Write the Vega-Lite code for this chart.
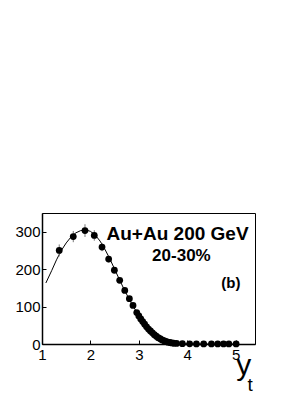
{
  "$schema": "https://vega.github.io/schema/vega-lite/v6.json",
  "width": 213,
  "height": 131,
  "autosize": {"type": "none"},
  "padding": {"left": 42, "top": 213, "right": 50, "bottom": 50},
  "background": "white",
  "config": {
    "font": "Liberation Sans",
    "view": {"stroke": "black", "strokeWidth": 1},
    "axis": {
      "grid": false,
      "domainColor": "black",
      "domainWidth": 1.5,
      "tickColor": "black",
      "tickSize": -4,
      "labelFont": "Liberation Sans",
      "labelFontSize": 15,
      "labelColor": "black"
    }
  },
  "datasets": {
    "pts": [
      {"yt": 1.356, "v": 250, "e": 16},
      {"yt": 1.646, "v": 287, "e": 15},
      {"yt": 1.888, "v": 303, "e": 17},
      {"yt": 2.08, "v": 290, "e": 14},
      {"yt": 2.24, "v": 259, "e": 11},
      {"yt": 2.377, "v": 227, "e": 9},
      {"yt": 2.495, "v": 197, "e": 7},
      {"yt": 2.605, "v": 170, "e": 6},
      {"yt": 2.71, "v": 143, "e": 5},
      {"yt": 2.805, "v": 121, "e": 4},
      {"yt": 2.88, "v": 103, "e": 4},
      {"yt": 2.957, "v": 84, "e": 3},
      {"yt": 3.0, "v": 75, "e": 3},
      {"yt": 3.04, "v": 67, "e": 2},
      {"yt": 3.08, "v": 60, "e": 2},
      {"yt": 3.12, "v": 53, "e": 2},
      {"yt": 3.16, "v": 46, "e": 2},
      {"yt": 3.2, "v": 40, "e": 2},
      {"yt": 3.24, "v": 35, "e": 1},
      {"yt": 3.28, "v": 30, "e": 1},
      {"yt": 3.32, "v": 25, "e": 1},
      {"yt": 3.36, "v": 21, "e": 1},
      {"yt": 3.4, "v": 17, "e": 1},
      {"yt": 3.44, "v": 14, "e": 1},
      {"yt": 3.48, "v": 11, "e": 1},
      {"yt": 3.52, "v": 9, "e": 1},
      {"yt": 3.56, "v": 7, "e": 1},
      {"yt": 3.6, "v": 5, "e": 1},
      {"yt": 3.64, "v": 4, "e": 1},
      {"yt": 3.68, "v": 3, "e": 1},
      {"yt": 3.72, "v": 2, "e": 1},
      {"yt": 3.78, "v": 1.5, "e": 1},
      {"yt": 3.9, "v": 1, "e": 1},
      {"yt": 4.05, "v": 0.5, "e": 1},
      {"yt": 4.19, "v": 0.3, "e": 1},
      {"yt": 4.34, "v": 0.3, "e": 1},
      {"yt": 4.5, "v": 0.3, "e": 1},
      {"yt": 4.63, "v": 0.3, "e": 1},
      {"yt": 4.75, "v": 0.3, "e": 1},
      {"yt": 4.86, "v": 0.3, "e": 1},
      {"yt": 5.01, "v": 0.3, "e": 1}
    ],
    "fit": [
      {"yt": 1.08, "v": 163}, {"yt": 1.2, "v": 196}, {"yt": 1.3, "v": 225},
      {"yt": 1.4, "v": 250}, {"yt": 1.5, "v": 270}, {"yt": 1.6, "v": 286},
      {"yt": 1.7, "v": 297}, {"yt": 1.8, "v": 303}, {"yt": 1.9, "v": 305},
      {"yt": 2.0, "v": 301}, {"yt": 2.1, "v": 291}, {"yt": 2.2, "v": 275},
      {"yt": 2.3, "v": 253}, {"yt": 2.4, "v": 228}, {"yt": 2.5, "v": 200},
      {"yt": 2.6, "v": 172}, {"yt": 2.7, "v": 145}, {"yt": 2.8, "v": 120},
      {"yt": 2.9, "v": 97}, {"yt": 3.0, "v": 77}, {"yt": 3.1, "v": 59},
      {"yt": 3.2, "v": 44}, {"yt": 3.3, "v": 31}, {"yt": 3.4, "v": 21},
      {"yt": 3.5, "v": 14}, {"yt": 3.6, "v": 8}, {"yt": 3.7, "v": 5},
      {"yt": 3.8, "v": 2.5}, {"yt": 3.9, "v": 1.2}, {"yt": 4.0, "v": 0.5},
      {"yt": 4.5, "v": 0}, {"yt": 5.0, "v": 0}
    ]
  },
  "layer": [
    {
      "data": {"name": "fit"},
      "mark": {"type": "line", "color": "black", "strokeWidth": 1},
      "encoding": {
        "x": {"field": "yt", "type": "quantitative", "title": null, "scale": {"domain": [1, 5.4], "nice": false, "zero": false},
              "axis": {"title": null, "values": [1, 2, 3, 4, 5], "labelPadding": 7, "labelFlush": false}},
        "y": {"field": "v", "type": "quantitative", "title": null, "scale": {"domain": [0, 350], "nice": false},
              "axis": {"title": null, "values": [0, 100, 200, 300], "labelPadding": 6, "labelFlush": false}}
      }
    },
    {
      "data": {"name": "pts"},
      "mark": {"type": "errorbar", "color": "#777777", "thickness": 1},
      "encoding": {
        "x": {"field": "yt", "type": "quantitative", "title": null},
        "y": {"field": "v", "type": "quantitative", "title": null},
        "yError": {"field": "e"}
      }
    },
    {
      "data": {"name": "pts"},
      "mark": {"type": "circle", "color": "black", "opacity": 1, "size": 46},
      "encoding": {
        "x": {"field": "yt", "type": "quantitative", "title": null},
        "y": {"field": "v", "type": "quantitative", "title": null}
      }
    },
    {
      "data": {"values": [{"label": "Au+Au 200 GeV"}]},
      "mark": {"type": "text", "fontWeight": "bold", "fontSize": 19, "align": "center", "baseline": "middle"},
      "encoding": {"x": {"datum": 3.8}, "y": {"datum": 293}, "text": {"field": "label"}}
    },
    {
      "data": {"values": [{"label": "20-30%"}]},
      "mark": {"type": "text", "fontWeight": "bold", "fontSize": 17, "align": "center", "baseline": "middle"},
      "encoding": {"x": {"datum": 3.88}, "y": {"datum": 235}, "text": {"field": "label"}}
    },
    {
      "data": {"values": [{"label": "(b)"}]},
      "mark": {"type": "text", "fontWeight": "bold", "fontSize": 15, "align": "center", "baseline": "middle"},
      "encoding": {"x": {"datum": 4.9}, "y": {"datum": 164}, "text": {"field": "label"}}
    },
    {
      "data": {"values": [{"label": "y"}]},
      "mark": {"type": "text", "fontSize": 30, "align": "center", "baseline": "alphabetic"},
      "encoding": {"x": {"datum": 5.17}, "y": {"datum": -82}, "text": {"field": "label"}}
    },
    {
      "data": {"values": [{"label": "t"}]},
      "mark": {"type": "text", "fontSize": 19, "align": "center", "baseline": "alphabetic"},
      "encoding": {"x": {"datum": 5.3}, "y": {"datum": -126}, "text": {"field": "label"}}
    }
  ]
}
